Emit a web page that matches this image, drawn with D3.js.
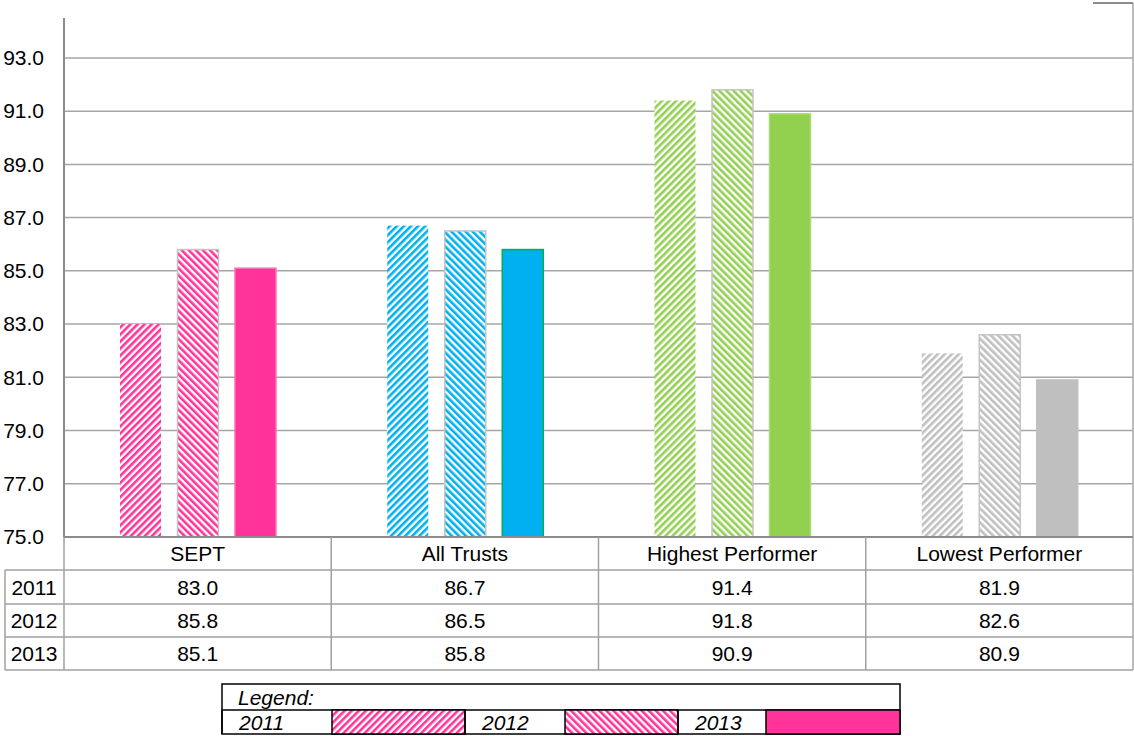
<!DOCTYPE html>
<html>
<head>
<meta charset="utf-8">
<script src="https://cdnjs.cloudflare.com/ajax/libs/d3/7.8.5/d3.min.js"></script>
<style>
  html, body { margin: 0; padding: 0; background: #fff; }
  svg { display: block; font-family: "Liberation Sans", Arial, sans-serif; }
</style>
</head>
<body>
<svg id="chart" width="1134" height="736"></svg>
<script>
// Survey scores by organisation group and year
const categories = ["SEPT", "All Trusts", "Highest Performer", "Lowest Performer"];
const years = ["2011", "2012", "2013"];
const values2011 = [83.0, 86.7, 91.4, 81.9];
const values2012 = [85.8, 86.5, 91.8, 82.6];
const values2013 = [85.1, 85.8, 90.9, 80.9];
const yTicks = [75, 77, 79, 81, 83, 85, 87, 89, 91, 93];

const seriesValues = { "2011": values2011, "2012": values2012, "2013": values2013 };

// Colours per category and outline colour of the solid 2013 bars
const catColors = ["#ff3399", "#00b0f0", "#92d050", "#bfbfbf"];
const solidStroke = ["#ff6fb5", "#00b050", "#a9dc76", "#bfbfbf"];

const svg = d3.select("#chart");
const defs = svg.append("defs");

// Diagonal stripe patterns: 2011 rises to the right, 2012 falls to the right
function stripe(id, color, angle) {
  const p = defs.append("pattern")
    .attr("id", id)
    .attr("patternUnits", "userSpaceOnUse")
    .attr("width", 5).attr("height", 5)
    .attr("patternTransform", `rotate(${angle})`);
  p.append("rect").attr("width", 5).attr("height", 5).attr("fill", "#fff");
  p.append("rect").attr("width", 2.6).attr("height", 5).attr("fill", color);
}
catColors.forEach((c, i) => {
  stripe(`fwd${i}`, c, 45);
  stripe(`bwd${i}`, c, -45);
});

const plotL = 64, plotR = 1133, plotT = 18, baseY = 537;
const fs = 21;

const y = d3.scaleLinear().domain([75, 94.5]).range([baseY, plotT]);
const x = d3.scaleBand().domain(categories).range([plotL, plotR]).padding(0);
const xs = d3.scaleBand().domain(years).range([56, 212]).paddingInner(0.287).paddingOuter(0);

// Gridlines
svg.append("g").selectAll("line").data(yTicks.slice(1)).join("line")
  .attr("x1", plotL).attr("x2", plotR)
  .attr("y1", d => y(d)).attr("y2", d => y(d))
  .attr("stroke", "#a6a6a6").attr("stroke-width", 1.5);

// Bars
const groups = svg.append("g").selectAll("g").data(categories).join("g")
  .attr("transform", d => `translate(${x(d)},0)`);

groups.each(function (cat, ci) {
  const g = d3.select(this);
  years.forEach((yr, yi) => {
    const v = seriesValues[yr][ci];
    const fill = yi === 0 ? `url(#fwd${ci})` : yi === 1 ? `url(#bwd${ci})` : catColors[ci];
    const stroke = yi === 0 ? "none" : yi === 1 ? "#c4c4c4" : solidStroke[ci];
    g.append("rect")
      .attr("x", xs(yr))
      .attr("y", y(v))
      .attr("width", xs.bandwidth())
      .attr("height", baseY - y(v))
      .attr("fill", fill)
      .attr("stroke", stroke)
      .attr("stroke-width", 1.5);
  });
});

// Y axis
const yAxis = d3.axisLeft(y).tickValues(yTicks).tickFormat(d3.format(".1f")).tickSize(0).tickPadding(20);
const ya = svg.append("g").attr("transform", `translate(${plotL},0)`).call(yAxis);
ya.select(".domain").remove();
ya.selectAll("text").attr("font-size", fs).attr("fill", "#000")
  .attr("font-family", "Liberation Sans, Arial, sans-serif");

svg.append("line").attr("x1", plotL).attr("x2", plotL).attr("y1", plotT).attr("y2", baseY)
  .attr("stroke", "#8c8c8c").attr("stroke-width", 2);
svg.append("line").attr("x1", plotR).attr("x2", plotR).attr("y1", 3).attr("y2", 670)
  .attr("stroke", "#a6a6a6").attr("stroke-width", 1.5);
svg.append("line").attr("x1", 1093).attr("x2", plotR).attr("y1", 3).attr("y2", 3)
  .attr("stroke", "#8c8c8c").attr("stroke-width", 2);

// Data table under the plot
const rowTops = [baseY, 570, 604, 637, 670];
const tbl = svg.append("g");
const lineCol = "#a0a0a0";
tbl.append("line").attr("x1", plotL).attr("x2", plotR).attr("y1", baseY).attr("y2", baseY)
  .attr("stroke", "#8c8c8c").attr("stroke-width", 2);
rowTops.slice(1).forEach(ry => {
  tbl.append("line").attr("x1", 5).attr("x2", plotR).attr("y1", ry).attr("y2", ry)
    .attr("stroke", lineCol).attr("stroke-width", 1.5);
});
tbl.append("line").attr("x1", 5).attr("x2", 5).attr("y1", 570).attr("y2", 670)
  .attr("stroke", lineCol).attr("stroke-width", 1.5);
[plotL, ...categories.slice(1).map(c => x(c))].forEach(vx => {
  tbl.append("line").attr("x1", vx).attr("x2", vx).attr("y1", baseY).attr("y2", 670)
    .attr("stroke", lineCol).attr("stroke-width", 1.5);
});

tbl.selectAll("text.cat").data(categories).join("text")
  .attr("class", "cat")
  .attr("x", d => x(d) + x.bandwidth() / 2)
  .attr("y", (rowTops[0] + rowTops[1]) / 2)
  .attr("dy", "0.36em").attr("text-anchor", "middle")
  .attr("font-size", fs).text(d => d);

years.forEach((yr, yi) => {
  const cy = (rowTops[yi + 1] + rowTops[yi + 2]) / 2;
  tbl.append("text").attr("x", 34).attr("y", cy).attr("dy", "0.36em")
    .attr("text-anchor", "middle").attr("font-size", fs).text(yr);
  tbl.selectAll(null).data(seriesValues[yr]).join("text")
    .attr("x", (d, i) => x(categories[i]) + x.bandwidth() / 2)
    .attr("y", cy).attr("dy", "0.36em").attr("text-anchor", "middle")
    .attr("font-size", fs).text(d => d3.format(".1f")(d));
});

// Legend
const lg = svg.append("g");
const lx0 = 222, lx1 = 900, ly0 = 684, ly1 = 710, ly2 = 734;
lg.append("rect").attr("x", lx0).attr("y", ly0).attr("width", lx1 - lx0).attr("height", ly2 - ly0)
  .attr("fill", "#fff").attr("stroke", "#000").attr("stroke-width", 1.5);
lg.append("line").attr("x1", lx0).attr("x2", lx1).attr("y1", ly1).attr("y2", ly1)
  .attr("stroke", "#000").attr("stroke-width", 1.5);
lg.append("text").attr("x", 238).attr("y", (ly0 + ly1) / 2).attr("dy", "0.36em")
  .attr("font-size", fs).attr("font-style", "italic").text("Legend:");
const cells = [
  { label: "2011", tx: 222, sx: 332, sw: 133, fill: "url(#fwd0)" },
  { label: "2012", tx: 465, sx: 565, sw: 113, fill: "url(#bwd0)" },
  { label: "2013", tx: 678, sx: 766, sw: 134, fill: catColors[0] }
];
cells.forEach(c => {
  lg.append("rect").attr("x", c.sx).attr("y", ly1).attr("width", c.sw).attr("height", ly2 - ly1)
    .attr("fill", c.fill).attr("stroke", "#000").attr("stroke-width", 1.5);
  lg.append("line").attr("x1", c.tx).attr("x2", c.tx).attr("y1", ly1).attr("y2", ly2)
    .attr("stroke", "#000").attr("stroke-width", 1.5);
  lg.append("text").attr("x", c.tx + 17).attr("y", (ly1 + ly2) / 2).attr("dy", "0.36em")
    .attr("font-size", fs).attr("font-style", "italic").text(c.label);
});
</script>
</body>
</html>
